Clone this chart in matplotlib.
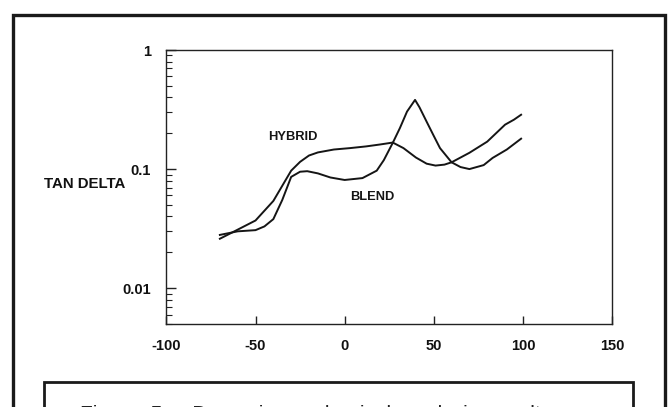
import matplotlib
matplotlib.use("Agg")
import matplotlib.pyplot as plt
from matplotlib.patches import Rectangle
from matplotlib.ticker import LogLocator, NullFormatter, FixedLocator

plt.rcParams['font.family'] = ['Liberation Sans', 'DejaVu Sans']

# ---- data ----
hybrid_x = [-70, -60, -50, -40, -30, -25, -20, -15, -6, 3, 12, 20, 27, 33, 40, 46, 51, 56, 60, 70, 80, 90, 95, 99]
hybrid_y = [0.026, 0.031, 0.037, 0.054, 0.097, 0.115, 0.13, 0.138, 0.146, 0.150, 0.155, 0.161, 0.167, 0.150, 0.125, 0.111, 0.107, 0.109, 0.114, 0.137, 0.17, 0.236, 0.26, 0.286]

blend_x = [-70, -60, -50, -45, -40, -35, -30, -25, -21, -15, -8, 0, 10, 18, 22, 27, 31, 35, 39.5, 42, 46, 50, 53.5, 60, 65, 70, 78, 83, 91, 99]
blend_y = [0.028, 0.030, 0.0307, 0.033, 0.038, 0.055, 0.086, 0.095, 0.096, 0.092, 0.085, 0.081, 0.084, 0.097, 0.119, 0.166, 0.221, 0.304, 0.381, 0.33, 0.25, 0.19, 0.15, 0.114, 0.104, 0.100, 0.108, 0.124, 0.146, 0.180]

x_ticks = [-100, -50, 0, 50, 100, 150]
x_tick_labels = ['-100', '-50', '0', '50', '100', '150']
y_ticks = [0.01, 0.1, 1]
y_tick_labels = ['0.01', '0.1', '1']

W, H = 670, 407
fig = plt.figure(figsize=(W / 100, H / 100), dpi=100)
fig.patch.set_facecolor('white')

ax = fig.add_axes([166.4 / W, 1 - 324 / H, (612 - 166.4) / W, (324 - 50) / H])
ax.set_yscale('log')
ax.set_xlim(-100, 150)
ax.set_ylim(0.005, 1)

lc = '#151515'
ax.plot(hybrid_x, hybrid_y, color=lc, lw=1.4)
ax.plot(blend_x, blend_y, color=lc, lw=1.4)

ax.text(-29, 0.187, 'HYBRID', ha='center', va='center', fontsize=9.3, fontweight='bold', color=lc)
ax.text(15.6, 0.0584, 'BLEND', ha='center', va='center', fontsize=9.3, fontweight='bold', color=lc)

for s in ax.spines.values():
    s.set_color('#222222')
    s.set_linewidth(1.0)

ax.xaxis.set_major_locator(FixedLocator(x_ticks))
ax.set_xticklabels(x_tick_labels)
ax.yaxis.set_major_locator(FixedLocator(y_ticks))
ax.set_yticklabels(y_tick_labels)
ax.yaxis.set_minor_locator(LogLocator(base=10, subs=[2, 3, 4, 5, 6, 7, 8, 9]))
ax.yaxis.set_minor_formatter(NullFormatter())
ax.xaxis.set_minor_locator(FixedLocator([]))

ax.tick_params(axis='x', which='major', direction='in', length=6, width=1, pad=11,
               labelsize=10.5, top=False, colors='#222222', labelcolor='#111111')
ax.tick_params(axis='y', which='major', direction='in', length=7, width=1, pad=11,
               labelsize=10.5, right=False, colors='#222222', labelcolor='#111111')
ax.tick_params(axis='y', which='minor', direction='in', length=4, width=0.8, right=False, colors='#222222')
for lab in ax.get_xticklabels() + ax.get_yticklabels():
    lab.set_fontweight('bold')

fig.text(44 / W, 1 - 183.7 / H, 'TAN DELTA', ha='left', va='center', fontsize=10.8,
         fontweight='bold', color='#111111')

# outer frame and caption box (both run off the bottom of the picture)
fig.patches.append(Rectangle((13.3 / W, -0.05), (665 - 13.3) / W, 1.05 - 14.7 / H,
                             transform=fig.transFigure, fill=False, ec='#1a1a1a', lw=2.4))
fig.patches.append(Rectangle((44 / W, -0.05), (633.3 - 44) / W, 0.05 + 1 - 382 / H,
                             transform=fig.transFigure, fill=False, ec='#1a1a1a', lw=2.0))

fig.text(80 / W, 1 - 404.5 / H, 'Figure  5  -  Dynamic  mechanical  analysis  results',
         ha='left', va='top', fontsize=15, color='#222222')

fig.savefig('out.png', dpi=100, facecolor='white')
